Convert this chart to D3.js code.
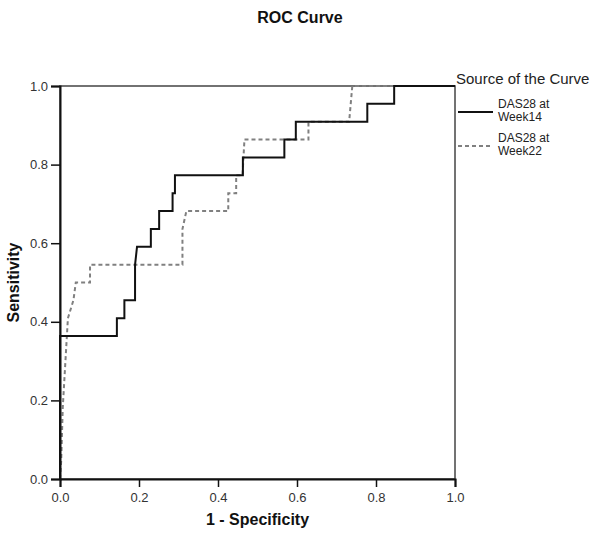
<!DOCTYPE html>
<html><head><meta charset="utf-8">
<script src="https://cdn.jsdelivr.net/npm/d3@7/dist/d3.min.js"></script>
<style>body{margin:0;background:#fff}svg{display:block}text{font-family:"Liberation Sans",Arial,sans-serif}</style>
</head><body>
<script>
const xTicks = [0, 0.2, 0.4, 0.6, 0.8, 1.0];
const yTicks = [0, 0.2, 0.4, 0.6, 0.8, 1.0];
const seriesNames = ["DAS28 at Week14", "DAS28 at Week22"];
// [1 - specificity, sensitivity]
const week14 = [[0,0],[0,0.364],[0.144,0.364],[0.144,0.409],[0.163,0.409],[0.163,0.455],[0.19,0.455],[0.19,0.545],[0.195,0.591],[0.23,0.591],[0.23,0.636],[0.251,0.636],[0.251,0.682],[0.285,0.682],[0.285,0.727],[0.291,0.727],[0.291,0.773],[0.463,0.773],[0.463,0.818],[0.568,0.818],[0.568,0.864],[0.597,0.864],[0.597,0.909],[0.778,0.909],[0.778,0.955],[0.846,0.955],[0.846,1],[1,1]];
const week22 = [[0,0],[0.003,0.045],[0.007,0.182],[0.02,0.409],[0.034,0.455],[0.04,0.5],[0.076,0.5],[0.076,0.545],[0.31,0.545],[0.31,0.636],[0.32,0.682],[0.426,0.682],[0.426,0.727],[0.446,0.727],[0.446,0.773],[0.462,0.773],[0.467,0.864],[0.629,0.864],[0.629,0.909],[0.732,0.909],[0.74,1],[1,1]];

const W = 600, H = 540;
const L = 60, R = 455, T = 86, B = 479;
const svg = d3.select("body").append("svg").attr("width", W).attr("height", H);
const x = d3.scaleLinear().domain([0,1]).range([L,R]);
const y = d3.scaleLinear().domain([0,1]).range([B,T]);

svg.append("text").attr("x", 300).attr("y", 23).attr("text-anchor","middle")
  .attr("font-size", 16).attr("font-weight","bold").attr("fill","#111").text("ROC Curve");

// frame
svg.append("rect").attr("x", L).attr("y", T).attr("width", R-L).attr("height", B-T)
  .attr("fill","none").attr("stroke","#444").attr("stroke-width",1.5);

const line = d3.line().x(d=>x(d[0])).y(d=>y(d[1]));
svg.append("path").datum(week22).attr("d", line).attr("fill","none")
  .attr("stroke","#808080").attr("stroke-width",2).attr("stroke-dasharray","4,3");
svg.append("path").datum(week14).attr("d", line).attr("fill","none")
  .attr("stroke","#111").attr("stroke-width",2);

const xAxis = svg.append("g").attr("transform",`translate(0,${B})`)
  .call(d3.axisBottom(x).tickValues(xTicks).tickFormat(d3.format(".1f")).tickSizeOuter(0).tickSize(8).tickPadding(6));
const yAxis = svg.append("g").attr("transform",`translate(${L},0)`)
  .call(d3.axisLeft(y).tickValues(yTicks).tickFormat(d3.format(".1f")).tickSizeOuter(0).tickSize(9).tickPadding(3));
[xAxis,yAxis].forEach(g=>{
  g.selectAll("path.domain").attr("stroke","#111").attr("stroke-width",2);
  g.selectAll(".tick line").attr("stroke","#111").attr("stroke-width",1.5);
  g.selectAll(".tick text").attr("font-size",13).attr("fill","#333").attr("font-family","Liberation Sans, Arial, sans-serif");
});

svg.append("text").attr("x", (L+R)/2).attr("y", 525).attr("text-anchor","middle")
  .attr("font-size", 16).attr("font-weight","bold").attr("fill","#111").text("1 - Specificity");
svg.append("text").attr("transform",`translate(19,${(T+B)/2}) rotate(-90)`).attr("text-anchor","middle")
  .attr("font-size", 16).attr("font-weight","bold").attr("fill","#111").text("Sensitivity");

// legend
svg.append("text").attr("x", 456).attr("y", 84).attr("font-size", 15).attr("fill","#222").text("Source of the Curve");
const items = [{name: seriesNames[0], dash: null, color:"#111", ly: 112},
               {name: seriesNames[1], dash: "4,3", color:"#808080", ly: 146}];
items.forEach(it=>{
  svg.append("line").attr("x1",458).attr("x2",493).attr("y1",it.ly).attr("y2",it.ly)
    .attr("stroke",it.color).attr("stroke-width",2).attr("stroke-dasharray",it.dash);
  const parts = it.name.split(" ");
  const t = svg.append("text").attr("x",498).attr("y",it.ly-4).attr("font-size",12).attr("fill","#222");
  t.append("tspan").attr("x",498).text(parts[0]+" "+parts[1]);
  t.append("tspan").attr("x",498).attr("dy",13).text(parts[2]);
});
</script>
</body></html>
